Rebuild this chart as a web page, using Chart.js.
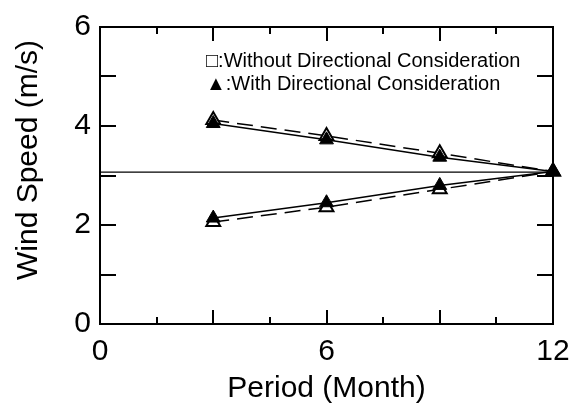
<!DOCTYPE html>
<html lang="en">
<head>
    <meta charset="UTF-8">
    <title>Wind Speed by Period</title>
    <script src="https://cdn.jsdelivr.net/npm/chart.js"></script>
    <style>
        html, body {
            margin: 0;
            padding: 0;
            background: #fff;
        }
    </style>
</head>
<body>
    <canvas id="windChart" width="582" height="408"></canvas>

    <script>
        // Wind speed (m/s) against averaging period (months)
        const periods = [3, 6, 9, 12];
        const upperWithout = [4.12, 3.80, 3.45, 3.08];
        const upperWith = [4.05, 3.72, 3.37, 3.08];
        const lowerWithout = [2.06, 2.36, 2.72, 3.08];
        const lowerWith = [2.14, 2.45, 2.80, 3.08];
        const referenceSpeed = 3.07;
        const referenceSpan = [0, 12];
        const xTickLabels = [0, 6, 12];
        const yTickLabels = [0, 2, 4, 6];
        const yTitle = 'Wind Speed (m/s)';
        const legendLines = ['\u25A1:Without Directional Consideration', '\u25B2:With Directional Consideration'];

        const FONT = "'Liberation Sans', Arial, sans-serif";

        function toPoints(values) {
            return periods.map((p, i) => ({ x: p, y: values[i] }));
        }

        const openTriangle = {
            pointStyle: 'triangle',
            pointRadius: 8,
            pointBackgroundColor: '#fff',
            pointBorderColor: '#000',
            pointBorderWidth: 2,
            borderColor: '#000',
            borderWidth: 1.5,
            borderDash: [16, 8],
            showLine: true,
            order: 2
        };
        const filledTriangle = {
            pointStyle: 'triangle',
            pointRadius: 8,
            pointBackgroundColor: '#000',
            pointBorderColor: '#000',
            pointBorderWidth: 1,
            borderColor: '#000',
            borderWidth: 1.5,
            showLine: true,
            order: 1
        };

        // inward tick marks on all four sides of the frame
        const frameTicks = {
            id: 'frameTicks',
            afterDatasetsDraw(chart) {
                const { ctx, chartArea: a, scales } = chart;
                ctx.save();
                ctx.strokeStyle = '#000';
                ctx.lineWidth = 2;
                ctx.beginPath();
                scales.x.ticks.forEach(t => {
                    if (t.value <= 0 || t.value >= 12) return;
                    const px = Math.round(scales.x.getPixelForValue(t.value));
                    const len = t.value % 3 === 0 ? 14 : 7;
                    ctx.moveTo(px, a.bottom); ctx.lineTo(px, a.bottom - len);
                    ctx.moveTo(px, a.top); ctx.lineTo(px, a.top + len);
                });
                scales.y.ticks.forEach(t => {
                    if (t.value <= 0 || t.value >= 6) return;
                    const py = Math.round(scales.y.getPixelForValue(t.value));
                    ctx.moveTo(a.left, py); ctx.lineTo(a.left + 16, py);
                    ctx.moveTo(a.right, py); ctx.lineTo(a.right - 16, py);
                });
                ctx.stroke();
                ctx.strokeRect(a.left, a.top, a.right - a.left, a.bottom - a.top);
                ctx.restore();
            }
        };

        // rotated y title and the two-line text key
        const textKey = {
            id: 'textKey',
            afterDraw(chart) {
                const { ctx } = chart;
                ctx.save();
                ctx.fillStyle = '#000';

                ctx.font = '30px ' + FONT;
                ctx.textAlign = 'center';
                ctx.textBaseline = 'middle';
                ctx.translate(29, 160);
                ctx.rotate(-Math.PI / 2);
                ctx.fillText(yTitle, 0, 0);
                ctx.setTransform(1, 0, 0, 1, 0, 0);

                ctx.font = '20px ' + FONT;
                ctx.textAlign = 'left';
                ctx.textBaseline = 'alphabetic';
                ctx.fillText(legendLines[0], 206, 67);
                ctx.fillText(legendLines[1], 206, 90);
                ctx.restore();
            }
        };

        new Chart(document.getElementById('windChart'), {
            type: 'scatter',
            data: {
                datasets: [
                    Object.assign({ label: 'Without (upper)', data: toPoints(upperWithout) }, openTriangle),
                    Object.assign({ label: 'Without (lower)', data: toPoints(lowerWithout) }, openTriangle),
                    Object.assign({ label: 'With (upper)', data: toPoints(upperWith) }, filledTriangle),
                    Object.assign({ label: 'With (lower)', data: toPoints(lowerWith) }, filledTriangle),
                    {
                        label: 'Reference',
                        data: referenceSpan.map(x => ({ x: x, y: referenceSpeed })),
                        showLine: true,
                        pointRadius: 0,
                        borderColor: '#000',
                        borderWidth: 1.2,
                        order: 3
                    }
                ]
            },
            options: {
                responsive: false,
                animation: false,
                clip: false,
                layout: { padding: { top: 24, right: 29, left: 0, bottom: 0 } },
                plugins: {
                    legend: { display: false },
                    tooltip: { enabled: false }
                },
                scales: {
                    x: {
                        type: 'linear',
                        min: 0,
                        max: 12,
                        afterFit(scale) { scale.height = 84; },
                        ticks: {
                            stepSize: 1.5,
                            autoSkip: false,
                            maxRotation: 0,
                            padding: 10,
                            color: '#000',
                            font: { family: FONT, size: 30 },
                            callback: v => xTickLabels.includes(v) ? String(v) : ''
                        },
                        grid: { display: false, drawTicks: false },
                        border: { display: false },
                        title: {
                            display: true,
                            text: 'Period (Month)',
                            color: '#000',
                            font: { family: FONT, size: 30 },
                            padding: { top: 0, bottom: 1 }
                        }
                    },
                    y: {
                        min: 0,
                        max: 6,
                        afterFit(scale) { scale.width = 100; },
                        ticks: {
                            stepSize: 1,
                            autoSkip: false,
                            padding: 9,
                            color: '#000',
                            font: { family: FONT, size: 30 },
                            callback: v => yTickLabels.includes(v) ? String(v) : ''
                        },
                        grid: { display: false, drawTicks: false },
                        border: { display: false },
                        title: { display: false }
                    }
                }
            },
            plugins: [frameTicks, textKey]
        });
    </script>
</body>
</html>
